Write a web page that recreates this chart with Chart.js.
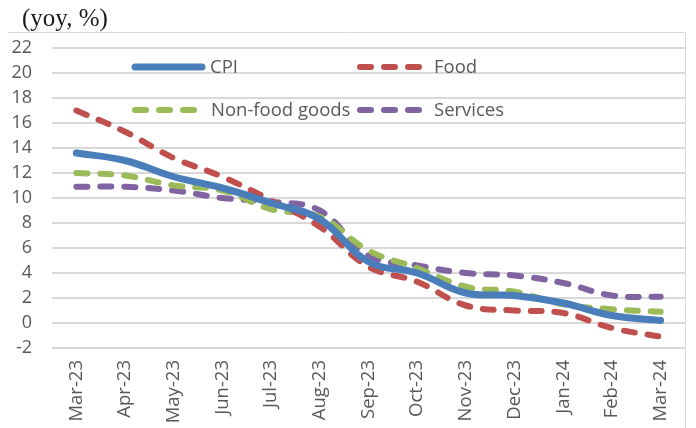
<!DOCTYPE html>
<html>
<head>
<meta charset="utf-8">
<script src="https://cdn.jsdelivr.net/npm/chart.js@4.4.1/dist/chart.umd.min.js"></script>
<style>
	html, body { margin: 0; padding: 0; background: #fff; }
</style>
</head>
<body>
<canvas id="cpi-chart" width="696" height="428"></canvas>
<script>
const months = ['Mar-23', 'Apr-23', 'May-23', 'Jun-23', 'Jul-23', 'Aug-23', 'Sep-23', 'Oct-23', 'Nov-23', 'Dec-23', 'Jan-24', 'Feb-24', 'Mar-24'];
const cpi = [13.6, 13.0, 11.7, 10.8, 9.6, 8.3, 4.9, 4.0, 2.4, 2.2, 1.6, 0.6, 0.2];
const food = [17.0, 15.3, 13.2, 11.7, 9.8, 7.7, 4.5, 3.3, 1.4, 1.0, 0.8, -0.4, -1.1];
const nonFood = [12.0, 11.8, 11.0, 10.6, 9.1, 8.5, 5.8, 4.4, 2.9, 2.5, 1.5, 1.1, 0.9];
const services = [10.9, 10.9, 10.6, 10.0, 9.7, 9.0, 5.4, 4.6, 4.0, 3.8, 3.2, 2.2, 2.1];
const yTicks = [22, 20, 18, 16, 14, 12, 10, 8, 6, 4, 2, 0, -2];

(() => {
	const grey = '#D9D9D9';
	const textColor = '#595959';
	const font = '"Open Sans", "Noto Sans", sans-serif';

	const line = (label, data, color, dashed) => ({
		label,
		data,
		borderColor: color,
		backgroundColor: color,
		borderWidth: dashed ? 6 : 7,
		borderDash: dashed ? [11, 13] : [],
		borderCapStyle: 'round',
		borderJoinStyle: 'round',
		pointRadius: 0,
		tension: 0.4,
		fill: false
	});

	// legend slots inside the plot, two rows of two
	const legendSlots = [
		{ x0: 135, x1: 202, y: 67, tx: 210 },
		{ x0: 360, x1: 420, y: 67, tx: 434 },
		{ x0: 135, x1: 196, y: 110, tx: 211 },
		{ x0: 360, x1: 420, y: 110, tx: 434 }
	];

	const decor = {
		id: 'decor',
		afterDraw(chart) {
			const { ctx } = chart;
			ctx.save();
			// outer frame bits
			ctx.strokeStyle = grey;
			ctx.lineWidth = 1;
			ctx.beginPath();
			ctx.moveTo(8, 32.5);
			ctx.lineTo(685.5, 32.5);
			ctx.lineTo(685.5, 428);
			ctx.stroke();

			// unit label
			ctx.fillStyle = '#1a1a1a';
			ctx.font = '25px "Liberation Serif", serif';
			ctx.textBaseline = 'alphabetic';
			ctx.textAlign = 'left';
			ctx.fillText('(yoy, %)', 22, 26);

			// legend
			chart.data.datasets.forEach((ds, i) => {
				const s = legendSlots[i];
				ctx.strokeStyle = ds.borderColor;
				ctx.lineWidth = ds.borderWidth;
				ctx.lineCap = 'round';
				ctx.setLineDash(ds.borderDash);
				ctx.beginPath();
				ctx.moveTo(s.x0, s.y);
				ctx.lineTo(s.x1, s.y);
				ctx.stroke();
				ctx.setLineDash([]);
				ctx.fillStyle = textColor;
				ctx.font = '18.5px ' + font;
				ctx.textBaseline = 'middle';
				ctx.fillText(ds.label, s.tx, s.y + 1);
			});
			ctx.restore();
		}
	};

	const canvas = document.getElementById('cpi-chart').getContext('2d');
	new Chart(canvas, {
		type: 'line',
		data: {
			labels: months,
			datasets: [
				line('CPI', cpi, '#4A7EBB', false),
				line('Food', food, '#C0504D', true),
				line('Non-food goods', nonFood, '#9BBB59', true),
				line('Services', services, '#8064A2', true)
			]
		},
		options: {
			responsive: false,
			animation: false,
			devicePixelRatio: 1,
			layout: {
				padding: { top: 48, right: 11, left: 0, bottom: 0 }
			},
			plugins: {
				legend: { display: false },
				tooltip: { enabled: false }
			},
			scales: {
				x: {
					offset: true,
					grid: { display: false, drawTicks: false },
					border: { display: false },
					ticks: {
						color: textColor,
						font: { family: font, size: 18.5 },
						minRotation: 90,
						maxRotation: 90,
						autoSkip: false,
						padding: 12
					},
					afterFit(scale) {
						scale.height = 80;
					}
				},
				y: {
					min: -2,
					max: 22,
					afterBuildTicks(scale) {
						scale.ticks = yTicks.map((v) => ({ value: v }));
					},
					grid: { color: grey, lineWidth: 2, drawTicks: false },
					border: { display: false },
					ticks: {
						color: textColor,
						font: { family: font, size: 18 },
						padding: 20
					},
					afterFit(scale) {
						scale.width = 52;
					}
				}
			}
		},
		plugins: [decor]
	});
})();
</script>
</body>
</html>
